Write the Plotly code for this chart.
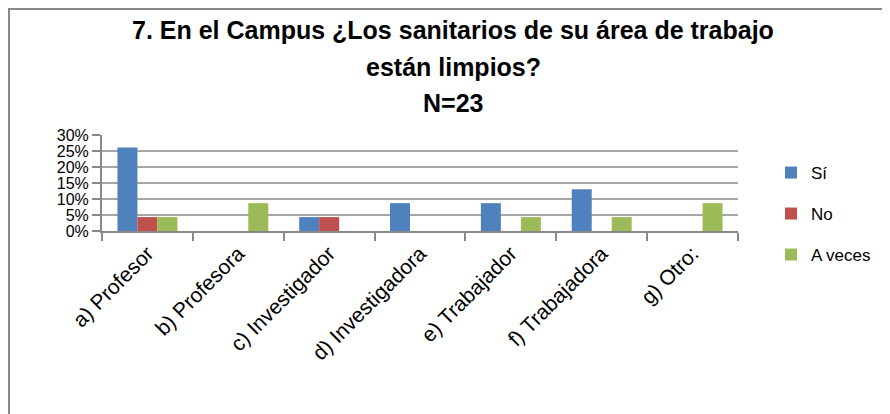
import plotly.graph_objects as go

categories = ["a) Profesor", "b) Profesora", "c) Investigador", "d) Investigadora",
              "e) Trabajador", "f) Trabajadora", "g) Otro:"]
si = [0.2609, 0, 0.0435, 0.087, 0.087, 0.1304, 0]
no = [0.0435, 0, 0.0435, 0, 0, 0, 0]
a_veces = [0.0435, 0.087, 0, 0, 0.0435, 0.0435, 0.087]
series_names = ["Sí", "No", "A veces"]
colors = ["#4F81BD", "#C0504D", "#9BBB59"]
title_lines = ["7. En el Campus ¿Los sanitarios de su área de trabajo",
               "están limpios?", "N=23"]
y_ticks = [0, 0.05, 0.10, 0.15, 0.20, 0.25, 0.30]

# page body has an 8px margin: work in screen pixels, convert to figure pixels
OFF = 8
W, H = 890 - OFF, 414 - OFF
PL, PR, PT, PB = 102, 738, 135, 231   # plot area in screen pixels
L, R, T, B = PL - OFF, W - (PR - OFF), PT - OFF, H - (PB - OFF)
pw, ph = W - L - R, H - T - B

def px_x(x):
    return (x - OFF - L) / pw

def px_y(y):
    return (H - B - (y - OFF)) / ph

font = "Liberation Sans, Arial, sans-serif"
legend_names = ["legend", "legend2", "legend3"]
legend_y = [173, 214, 255]

fig = go.Figure()
for i, (name, vals) in enumerate(zip(series_names, [si, no, a_veces])):
    fig.add_trace(go.Bar(x=categories, y=vals, name=name, marker_color=colors[i],
                         marker_line_width=0, legend=legend_names[i]))

annotations = []
for txt, yy in zip(title_lines, [30, 67, 103]):
    annotations.append(dict(text="<b>" + txt + "</b>", x=px_x(453), y=px_y(yy),
                            xref="paper", yref="paper", xanchor="center", yanchor="middle",
                            showarrow=False, font=dict(family=font, size=25, color="black")))

legends = {}
for ln, ly in zip(legend_names, legend_y):
    legends[ln] = dict(x=px_x(771), y=px_y(ly), xanchor="left", yanchor="middle",
                       font=dict(family=font, size=17, color="black"),
                       bgcolor="rgba(0,0,0,0)")

fig.update_layout(
    width=W, height=H,
    margin=dict(l=L, r=R, t=T, b=B, autoexpand=False),
    paper_bgcolor="white", plot_bgcolor="white",
    barmode="group", bargap=0.34, bargroupgap=0,
    showlegend=True,
    annotations=annotations,
    shapes=[dict(type="rect", xref="paper", yref="paper",
                 x0=px_x(9), x1=px_x(910), y0=px_y(440), y1=px_y(9),
                 line=dict(color="#888888", width=2), fillcolor="rgba(0,0,0,0)", layer="below")],
    **legends,
)
fig.update_xaxes(type="category", showline=True, linecolor="#888888", linewidth=2,
                 ticks="outside", tickson="boundaries", ticklen=8, tickcolor="#888888",
                 tickwidth=2, tickangle=-45, showgrid=False,
                 tickfont=dict(family=font, size=21, color="black"))
fig.update_yaxes(range=[0, 0.30], tickvals=y_ticks, tickformat=".0%",
                 showline=True, linecolor="#888888", linewidth=2,
                 ticks="outside", ticklen=8, tickcolor="#888888", tickwidth=2,
                 showgrid=True, gridcolor="#A6A6A6", gridwidth=2, zeroline=False,
                 tickfont=dict(family=font, size=16, color="black"))

fig.write_html("out.html")
